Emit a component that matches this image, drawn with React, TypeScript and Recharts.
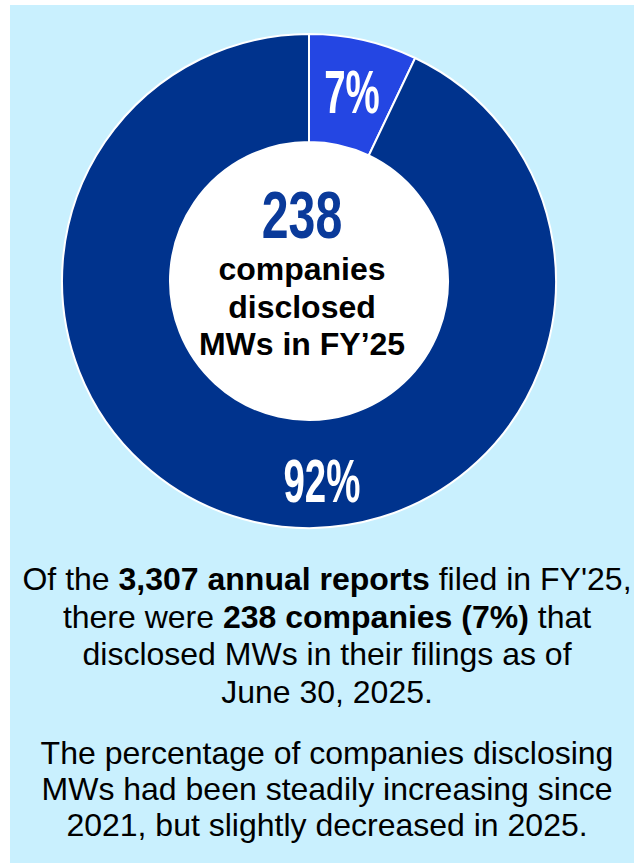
import { PieChart, Pie, Cell } from 'recharts';

// share of FY'25 annual reports (percent)
const segments = ['Disclosed MWs', 'No MWs disclosed'];
const shares = [7, 92];
const disclosingCount = 238;
const centerLines = ['companies', 'disclosed', 'MWs in FY\u201925'];

const ringData = segments.map((name, i) => ({ name, value: shares[i] }));
const holeData = [{ name: 'hole', value: 1 }];

const COLORS = ['#2446e3', '#00338d'];
const FONT = '"Liberation Sans", Arial, sans-serif';
const RAD = Math.PI / 180;

function SliceLabel(props: any) {
  const { cx, cy, midAngle, innerRadius, outerRadius, index, value } = props;
  // big slice label sits near the bottom of the ring, small one at its middle
  const angle = index === 0 ? midAngle : -86.3;
  const r = index === 0 ? (innerRadius + outerRadius) / 2 + 2 : 199.5;
  const x = cx + r * Math.cos(angle * RAD);
  const y = cy - r * Math.sin(angle * RAD) + 22;
  return (
    <text
      transform={`translate(${x},${y}) scale(0.62,1)`}
      textAnchor="middle"
      fill="#fff"
      fontFamily={FONT}
      fontWeight="bold"
      fontSize={62}
    >
      {`${value}%`}
    </text>
  );
}

function CenterText(props: any) {
  const { cx, cy } = props;
  const x = cx - 7;
  return (
    <g>
      <text
        transform={`translate(${x},${cy - 43}) scale(0.72,1)`}
        textAnchor="middle"
        fill="#0a3a9a"
        fontFamily={FONT}
        fontWeight="bold"
        fontSize={67}
      >
        {disclosingCount}
      </text>
      {centerLines.map((line, i) => (
        <text
          key={line}
          x={x}
          y={cy - 1 + i * 37.5}
          textAnchor="middle"
          fill="#000"
          fontFamily={FONT}
          fontWeight="bold"
          fontSize={32}
        >
          {line}
        </text>
      ))}
    </g>
  );
}

const lineStyle: React.CSSProperties = { whiteSpace: 'nowrap', height: 37.5 };

export default function App() {
  return (
    <div
      style={{
        position: 'absolute',
        left: 10,
        top: 5,
        width: 624,
        height: 858,
        background: '#c9f0fe',
        fontFamily: FONT,
        color: '#000',
      }}
    >
      <PieChart width={624} height={540} margin={{ top: 0, right: 0, bottom: 0, left: 0 }}>
        <Pie
          data={ringData}
          dataKey="value"
          cx={299}
          cy={276}
          innerRadius={139}
          outerRadius={247}
          startAngle={90}
          endAngle={-270}
          stroke="#fff"
          strokeWidth={2}
          label={SliceLabel}
          labelLine={false}
          isAnimationActive={false}
        >
          {ringData.map((d, i) => (
            <Cell key={d.name} fill={COLORS[i]} />
          ))}
        </Pie>
        <Pie
          data={holeData}
          dataKey="value"
          cx={299}
          cy={276}
          innerRadius={0}
          outerRadius={139}
          fill="#fff"
          stroke="none"
          label={CenterText}
          labelLine={false}
          isAnimationActive={false}
        />
      </PieChart>
      <div
        style={{
          position: 'absolute',
          top: 556,
          left: 5,
          width: 624,
          textAlign: 'center',
          fontSize: 32,
          lineHeight: '37.5px',
        }}
      >
        <div style={lineStyle}>
          Of the <b>3,307 annual reports</b> filed in FY'25,
        </div>
        <div style={lineStyle}>
          there were <b>238 companies (7%)</b> that
        </div>
        <div style={lineStyle}>disclosed MWs in their filings as of</div>
        <div style={lineStyle}>June 30, 2025.</div>
      </div>
      <div
        style={{
          position: 'absolute',
          top: 730,
          left: 5,
          width: 624,
          textAlign: 'center',
          fontSize: 32,
          lineHeight: '36px',
        }}
      >
        <div style={{ whiteSpace: 'nowrap' }}>The percentage of companies disclosing</div>
        <div style={{ whiteSpace: 'nowrap' }}>MWs had been steadily increasing since</div>
        <div style={{ whiteSpace: 'nowrap' }}>2021, but slightly decreased in 2025.</div>
      </div>
    </div>
  );
}
